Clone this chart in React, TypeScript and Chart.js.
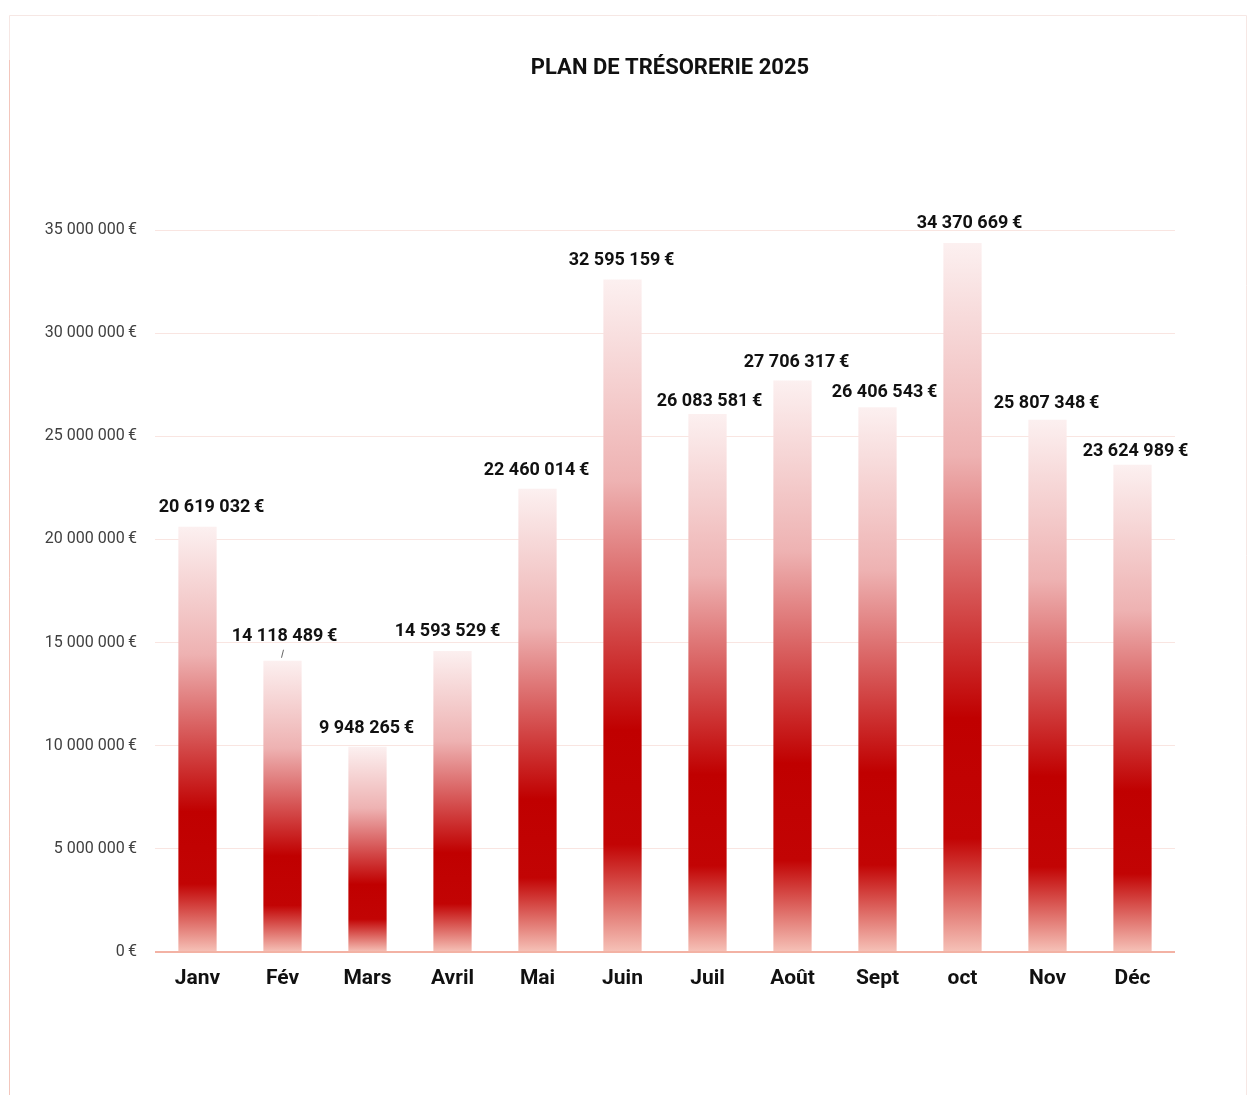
import React, { useEffect, useRef } from "react";
import { Chart, registerables } from "chart.js";

Chart.register(...registerables);

const TITLE = "PLAN DE TRÉSORERIE 2025";
const months = ["Janv", "Fév", "Mars", "Avril", "Mai", "Juin", "Juil", "Août", "Sept", "oct", "Nov", "Déc"];
const balances = [20619032, 14118489, 9948265, 14593529, 22460014, 32595159, 26083581, 27706317, 26406543, 34370669, 25807348, 23624989];
const yTickMax = 35000000;
const yTickStep = 5000000;
// label nudges (dx, dy in px) relative to default position above each bar
const labelDx = [14, 2, -1, -5, -1, -1, 2, 4, 7, 7, -1, 3];
const labelDy = [0, -5, 1, 0, 1, 0, 7, 1, 4, 0, 3, 6];

const fmt = (v: number) => String(Math.round(v)).replace(/\B(?=(\d{3})+(?!\d))/g, " ");

export default function App() {
  const ref = useRef<HTMLCanvasElement | null>(null);

  useEffect(() => {
    if (!ref.current) return;
    const decor = {
      id: "decor",
      beforeDraw(chart: any) {
        const ctx = chart.ctx;
        ctx.save();
        ctx.fillStyle = "#ffffff";
        ctx.fillRect(0, 0, chart.width, chart.height);
        ctx.lineWidth = 1;
        ctx.strokeStyle = "#f6e7e4";
        ctx.beginPath();
        ctx.moveTo(9.5, 1095);
        ctx.lineTo(9.5, 15.5);
        ctx.lineTo(1246.5, 15.5);
        ctx.lineTo(1246.5, 1095);
        ctx.stroke();
        ctx.strokeStyle = "#f3c6bc";
        ctx.beginPath();
        ctx.moveTo(9.5, 60);
        ctx.lineTo(9.5, 1095);
        ctx.stroke();
        ctx.restore();
      },
      afterDatasetsDraw(chart: any) {
        const ctx = chart.ctx;
        ctx.save();
        ctx.fillStyle = "#111111";
        ctx.font = "bold 22px Roboto";
        ctx.textAlign = "center";
        ctx.textBaseline = "middle";
        ctx.fillText(TITLE, 670, 68);
        const meta = chart.getDatasetMeta(0);
        ctx.font = "bold 18px Roboto";
        meta.data.forEach((el: any, i: number) => {
          const x = el.x + labelDx[i];
          const y = el.y - 19 + labelDy[i];
          ctx.fillText(fmt(balances[i]) + "\u2009€", x, y);
        });
        // leader line for Fév
        const f = meta.data[1];
        ctx.strokeStyle = "#666";
        ctx.lineWidth = 1;
        ctx.beginPath();
        ctx.moveTo(f.x + 1, f.y - 11);
        ctx.lineTo(f.x - 1, f.y - 3);
        ctx.stroke();
        ctx.restore();
      },
    };

    const chart = new Chart(ref.current, {
      type: "bar",
      data: {
        labels: months,
        datasets: [
          {
            data: balances,
            barPercentage: 0.45,
            categoryPercentage: 1,
            backgroundColor: (c: any) => {
              const chart = c.chart;
              const { ctx, chartArea, scales } = chart;
              if (!chartArea || c.type !== "data" || !scales.y) return "#c00000";
              const top = scales.y.getPixelForValue(c.raw);
              const bottom = scales.y.getPixelForValue(0);
              const g = ctx.createLinearGradient(0, top, 0, bottom);
              g.addColorStop(0, "#fcf0f0");
              g.addColorStop(0.3, "#eeb2b2");
              g.addColorStop(0.67, "#c00000");
              g.addColorStop(0.84, "#c20404");
              g.addColorStop(1, "#f6c2b8");
              return g;
            },
            borderWidth: 0,
          },
        ],
      },
      options: {
        responsive: false,
        animation: false,
        layout: { padding: { left: 20, right: 76, top: 230, bottom: 83 } },
        plugins: {
          legend: { display: false },
          title: { display: false },
          tooltip: { enabled: false },
        },
        scales: {
          x: {
            grid: { display: false, drawTicks: false },
            border: { display: false },
            ticks: {
              color: "#111111",
              font: { family: "Roboto", size: 21, weight: "bold" },
              padding: 14,
            },
            afterFit: (s: any) => {
              s.height = 60;
            },
          },
          y: {
            min: 0,
            max: yTickMax,
            border: { display: false },
            grid: {
              drawTicks: false,
              color: (c: any) => (c.tick && c.tick.value === 0 ? "#f3b2a4" : "#f9e5e1"),
              lineWidth: (c: any) => (c.tick && c.tick.value === 0 ? 2 : 1),
            },
            ticks: {
              stepSize: yTickStep,
              padding: 18,
              color: "#404040",
              font: { family: "Roboto", size: 16 },
              callback: (v: any) => fmt(Number(v)) + "\u2009€",
            },
            afterFit: (s: any) => {
              s.width = 135;
            },
          },
        },
      },
      plugins: [decor],
    });
    return () => chart.destroy();
  }, []);

  return (
    <div style={{ position: "absolute", left: 0, top: 0, width: 1251, height: 1095 }}>
      <canvas ref={ref} width={1251} height={1095} style={{ width: 1251, height: 1095 }} />
    </div>
  );
}
